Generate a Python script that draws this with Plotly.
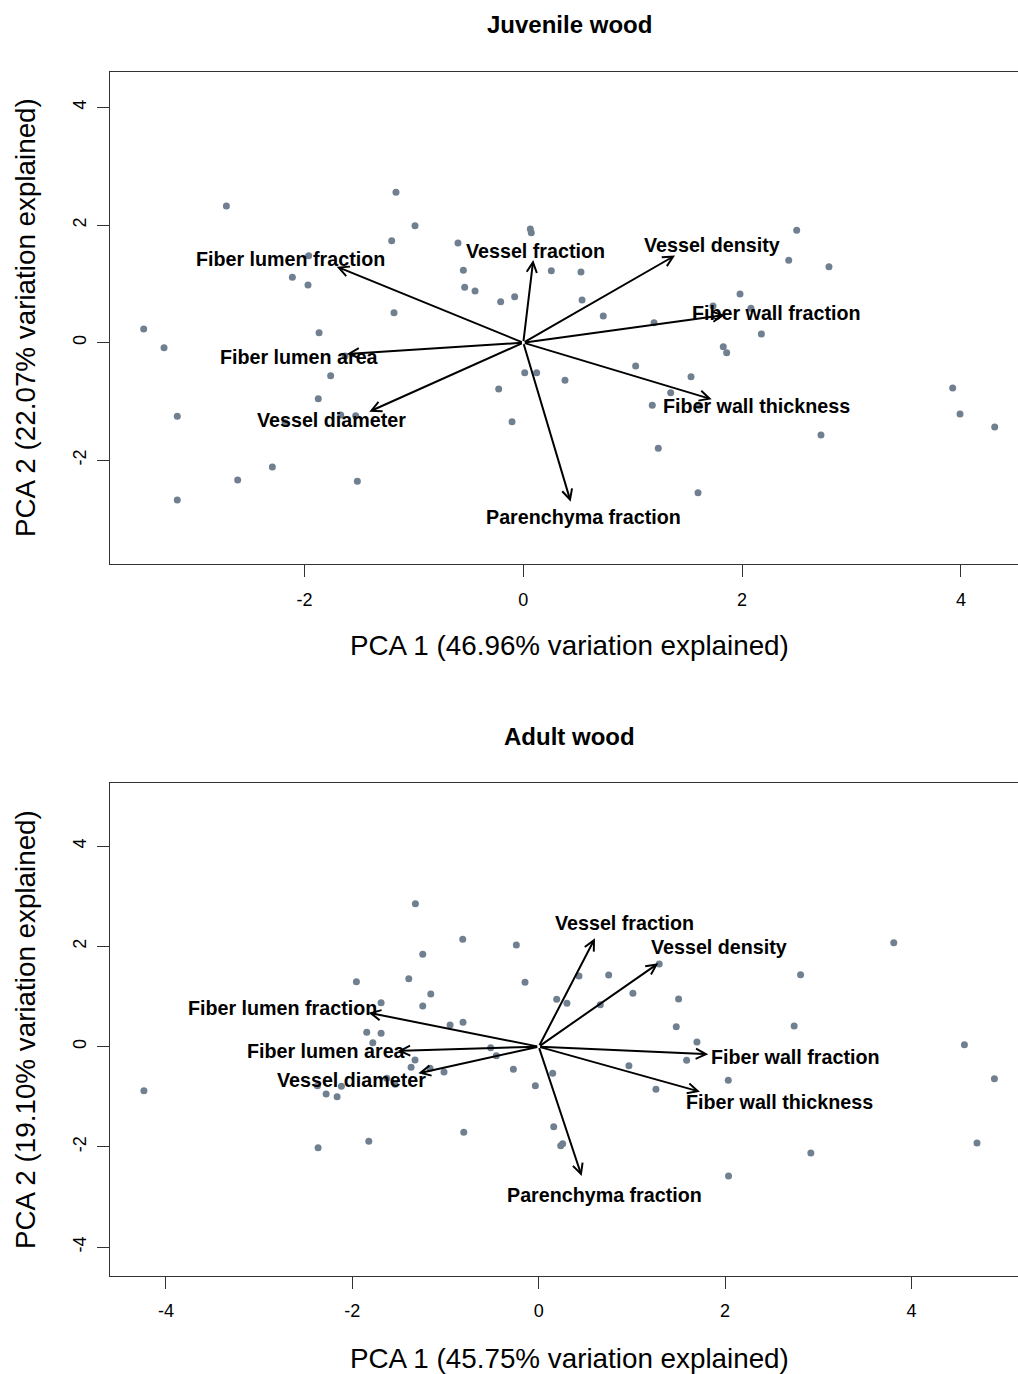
import plotly.graph_objects as go

# ---------------- data ----------------
variables = ["Fiber lumen fraction", "Vessel fraction", "Vessel density", "Fiber wall fraction",
             "Fiber wall thickness", "Parenchyma fraction", "Fiber lumen area", "Vessel diameter"]

# Juvenile wood
juv_pc1 = [-2.714, -1.164, -0.990, -1.203, -0.597, 0.064, 0.073, -1.962, -2.111, -1.968,
           -0.548, 0.256, -0.536, -0.441, -0.207, -0.079, -1.182, 2.499, 0.527, 2.426,
           2.794, 0.537, 1.981, 1.734, 2.081, 0.731, 1.195, 2.176, 1.828, 1.859,
           0.013, 0.122, 0.381, -0.225, 1.027, 1.533, 1.347, 1.179, 3.925, 3.992,
           4.309, 2.721, 1.234, 1.597, 1.613, -3.470, -3.284, -1.867, -1.630, -1.761,
           -1.874, -3.163, -1.669, -1.532, -2.178, -2.294, -2.611, -1.517, -3.163, -0.103]
juv_pc2 = [2.325, 2.558, 1.990, 1.735, 1.696, 1.934, 1.871, 1.480, 1.112, 0.981,
           1.231, 1.225, 0.942, 0.879, 0.697, 0.782, 0.510, 1.911, 1.202, 1.401,
           1.293, 0.726, 0.828, 0.624, 0.585, 0.454, 0.340, 0.148, -0.068, -0.170,
           -0.510, -0.510, -0.640, -0.787, -0.396, -0.578, -0.850, -1.065, -0.770, -1.213,
           -1.434, -1.570, -1.796, -2.551, -1.077, 0.233, -0.085, 0.170, -0.226, -0.561,
           -0.952, -1.252, -1.230, -1.241, -1.361, -2.114, -2.335, -2.357, -2.675, -1.343]
juv_load_x = [-1.706, 0.091, 1.387, 1.844, 1.722, 0.433, -1.614, -1.408]
juv_load_y = [1.293, 1.406, 1.483, 0.471, -0.963, -2.704, -0.192, -1.173]
juv_lab_x = [-2.128, 0.116, 1.729, 2.314, 2.136, 0.546, -2.046, -1.753]
juv_lab_y = [1.423, 1.559, 1.662, 0.505, -1.077, -2.964, -0.243, -1.315]

# Adult wood
adu_pc1 = [-1.323, -0.815, -0.240, -1.244, -1.956, -1.394, -0.147, -1.158, -1.691, -1.244,
           0.193, -0.951, -0.812, -1.845, -1.691, 0.432, 0.751, 0.303, 0.661, 1.011,
           1.501, 1.476, 1.698, 1.587, 2.034, 0.968, 1.258, -1.780, -0.515, -0.455,
           -1.327, -1.369, -1.166, -1.016, -0.272, 0.150, -0.036, -2.374, -2.117, -2.281,
           -2.163, -1.541, -4.236, -1.630, -2.367, -1.823, -0.804, 0.161, 0.257, 0.236,
           2.741, 4.568, 4.890, 4.703, 2.920, 2.037, 3.810, 2.810, 1.293]
adu_pc2 = [2.854, 2.144, 2.030, 1.844, 1.297, 1.357, 1.285, 1.052, 0.878, 0.812,
           0.946, 0.433, 0.487, 0.287, 0.267, 1.411, 1.431, 0.866, 0.839, 1.065,
           0.952, 0.399, 0.094, -0.272, -0.671, -0.379, -0.851, 0.080, -0.020, -0.180,
           -0.265, -0.411, -0.431, -0.505, -0.451, -0.531, -0.778, -0.778, -0.790, -0.944,
           -0.998, -0.751, -0.878, -0.631, -2.016, -1.888, -1.709, -1.597, -1.936, -1.976,
           0.413, 0.040, -0.639, -1.922, -2.122, -2.581, 2.076, 1.437, 1.651]
adu_load_x = [-1.827, 0.604, 1.283, 1.819, 1.730, 0.461, -1.512, -1.291]
adu_load_y = [0.679, 2.164, 1.665, -0.152, -0.898, -2.581, -0.086, -0.531]
adu_lab_x = [-2.753, 0.925, 1.934, 2.754, 2.582, 0.711, -2.281, -2.008]
adu_lab_y = [0.772, 2.471, 1.990, -0.206, -1.104, -2.960, -0.086, -0.665]

tick_vals = [-4, -2, 0, 2, 4]
tick_text = ["-4", "-2", "0", "2", "4"]

titles = ["Juvenile wood", "Adult wood"]
x_titles = ["PCA 1 (46.96% variation explained)", "PCA 1 (45.75% variation explained)"]
y_titles = ["PCA 2 (22.07% variation explained)", "PCA 2 (19.10% variation explained)"]

# ---------------- layout constants ----------------
W, H = 1018, 1374
ML = 110
FONT = "Liberation Sans, Arial, sans-serif"
PT_COLOR = "#708090"
AX_COLOR = "#333333"

def py(p):  # pixel y from top -> paper
    return 1 - p / H

def px(p):  # pixel x -> paper
    return (p - ML) / (W - ML)

fig = go.Figure()

panels = [
    dict(pc1=juv_pc1, pc2=juv_pc2, lx=juv_load_x, ly=juv_load_y, tx=juv_lab_x, ty=juv_lab_y,
         xr=[-3.778, 4.522], yr=[-3.764, 4.609], dom=[py(564), py(71.7)],
         title_y=24, xt_y=646, yt_y=318, xa="x", ya="y"),
    dict(pc1=adu_pc1, pc2=adu_pc2, lx=adu_load_x, ly=adu_load_y, tx=adu_lab_x, ty=adu_lab_y,
         xr=[-4.6, 5.143], yr=[-4.571, 5.257], dom=[py(1275.7), py(783.3)],
         title_y=736, xt_y=1358, yt_y=1030, xa="x2", ya="y2"),
]

annotations = []
for i, p in enumerate(panels):
    fig.add_trace(go.Scatter(x=p["pc1"], y=p["pc2"], mode="markers",
                             marker=dict(color=PT_COLOR, size=7, line=dict(width=0)),
                             xaxis=p["xa"], yaxis=p["ya"], showlegend=False, hoverinfo="skip"))
    for j, name in enumerate(variables):
        annotations.append(dict(x=p["lx"][j], y=p["ly"][j], ax=0, ay=0,
                                xref=p["xa"], yref=p["ya"], axref=p["xa"], ayref=p["ya"],
                                text="", showarrow=True, arrowhead=5, arrowsize=1.0,
                                arrowwidth=2, arrowcolor="black", standoff=0, startstandoff=0))
        annotations.append(dict(x=p["tx"][j], y=p["ty"][j], xref=p["xa"], yref=p["ya"],
                                text="<b>" + name + "</b>", showarrow=False,
                                font=dict(family=FONT, size=19.7, color="black"),
                                xanchor="center", yanchor="middle"))
    annotations.append(dict(x=px(569), y=py(p["title_y"]), xref="paper", yref="paper",
                            text="<b>" + titles[i] + "</b>", showarrow=False,
                            font=dict(family=FONT, size=24, color="black"),
                            xanchor="center", yanchor="middle"))
    annotations.append(dict(x=px(569), y=py(p["xt_y"]), xref="paper", yref="paper",
                            text=x_titles[i], showarrow=False,
                            font=dict(family=FONT, size=27.8, color="black"),
                            xanchor="center", yanchor="middle"))
    annotations.append(dict(x=px(25), y=py(p["yt_y"]), xref="paper", yref="paper",
                            text=y_titles[i], showarrow=False, textangle=-90,
                            font=dict(family=FONT, size=27.8, color="black"),
                            xanchor="center", yanchor="middle"))

axis_common = dict(showgrid=False, zeroline=False, showline=True, linecolor=AX_COLOR,
                   linewidth=1.3, ticks="outside", ticklen=12, tickwidth=1.3,
                   tickcolor=AX_COLOR, tickvals=tick_vals, ticktext=tick_text,
                   tickfont=dict(family=FONT, size=18, color="black"),
                   ticklabelstandoff=7, automargin=False)

fig.update_layout(
    width=W, height=H,
    margin=dict(l=ML, r=0, t=0, b=0),
    paper_bgcolor="white", plot_bgcolor="white",
    showlegend=False,
    annotations=annotations,
    xaxis=dict(axis_common, range=panels[0]["xr"], domain=[0, 1], anchor="y", mirror=True),
    yaxis=dict(axis_common, range=panels[0]["yr"], domain=panels[0]["dom"], anchor="x",
               tickangle=-90, mirror=False, ticklabelstandoff=4),
    xaxis2=dict(axis_common, range=panels[1]["xr"], domain=[0, 1], anchor="y2", mirror=True),
    yaxis2=dict(axis_common, range=panels[1]["yr"], domain=panels[1]["dom"], anchor="x2",
                tickangle=-90, mirror=False, ticklabelstandoff=4),
)

fig.write_html("out.html",
               config={"displayModeBar": False},
               post_script="document.body.style.margin='0';document.body.style.padding='0';"
                           "document.body.style.overflow='hidden';")
